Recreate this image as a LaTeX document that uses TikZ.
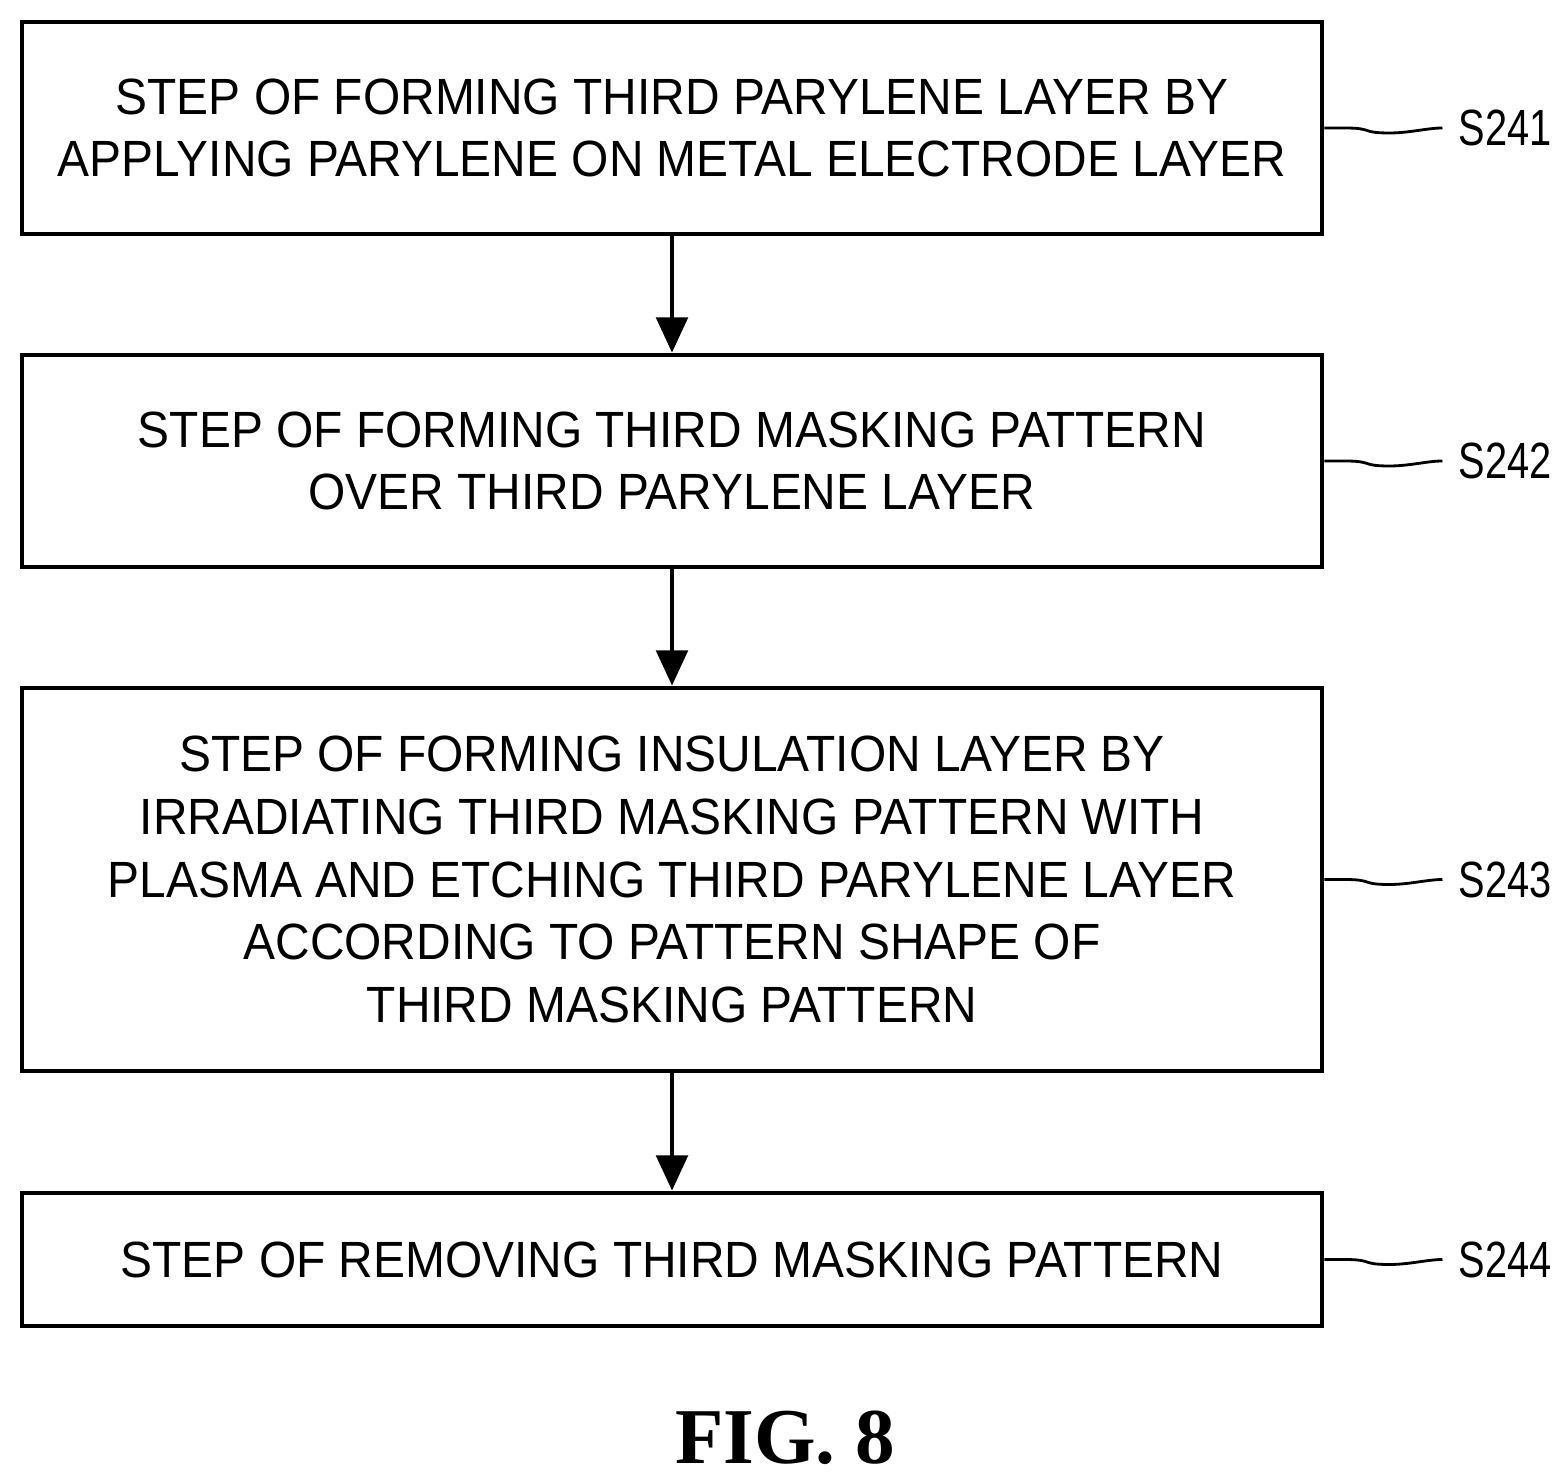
\documentclass[tikz,border=0pt]{standalone}
\usepackage{fontspec}
\setmainfont{Liberation Sans}[FakeStretch=0.94]
\newfontfamily\tagfont{Liberation Sans}[FakeStretch=0.78]
\newfontfamily\figfont{Liberation Serif}
\usetikzlibrary{positioning,arrows.meta}
\tikzset{
  stepbox/.style={draw, line width=1.4pt, minimum width=13cm, align=center,
    font=\fontsize{14.5}{17.9}\selectfont},
  flow/.style={-{Triangle[length=10pt,width=9pt]}, line width=1pt},
  tag/.style={font=\tagfont\fontsize{14.5}{17}\selectfont, anchor=west, inner sep=1pt},
  wave/.style={line width=0.8pt}
}
\begin{document}
\begin{tikzpicture}[x=1cm,y=1cm]
	\useasboundingbox (0,0) rectangle (15.68,-14.82);

	% process steps
	\node[stepbox, minimum height=2.12cm] (s1) at (6.72,-1.28) {STEP OF FORMING THIRD PARYLENE LAYER BY\\APPLYING PARYLENE ON METAL ELECTRODE LAYER};
	\node[stepbox, minimum height=2.12cm] (s2) at (6.72,-4.61) {STEP OF FORMING THIRD MASKING PATTERN\\OVER THIRD PARYLENE LAYER};
	\node[stepbox, minimum height=3.83cm] (s3) at (6.72,-8.795) {STEP OF FORMING INSULATION LAYER BY\\IRRADIATING THIRD MASKING PATTERN WITH\\PLASMA AND ETCHING THIRD PARYLENE LAYER\\ACCORDING TO PATTERN SHAPE OF\\THIRD MASKING PATTERN};
	\node[stepbox, minimum height=1.33cm] (s4) at (6.72,-12.595) {STEP OF REMOVING THIRD MASKING PATTERN};

	% arrows
	\draw[flow] (s1) -- (s2);
	\draw[flow] (s2) -- (s3);
	\draw[flow] (s3) -- (s4);

	% step labels
	\foreach \n/\t in {s1/S241, s2/S242, s3/S243, s4/S244} {
		\node[tag] (t\n) at ([xshift=1.3cm]\n.east) {\t};
		\draw[wave] (\n.east) -- ++(0.2,0) .. controls ++(0.3,0) and ++(-0.3,0) .. ++(0.45,-0.05)
			.. controls ++(0.2,0) and ++(-0.15,0) .. ([xshift=-0.12cm]t\n.west);
	}

	% caption
	\node[font=\figfont\bfseries\fontsize{22.5}{27}\selectfont] (fig) at (7.85,-14.38) {FIG. 8};
\end{tikzpicture}
\end{document}
